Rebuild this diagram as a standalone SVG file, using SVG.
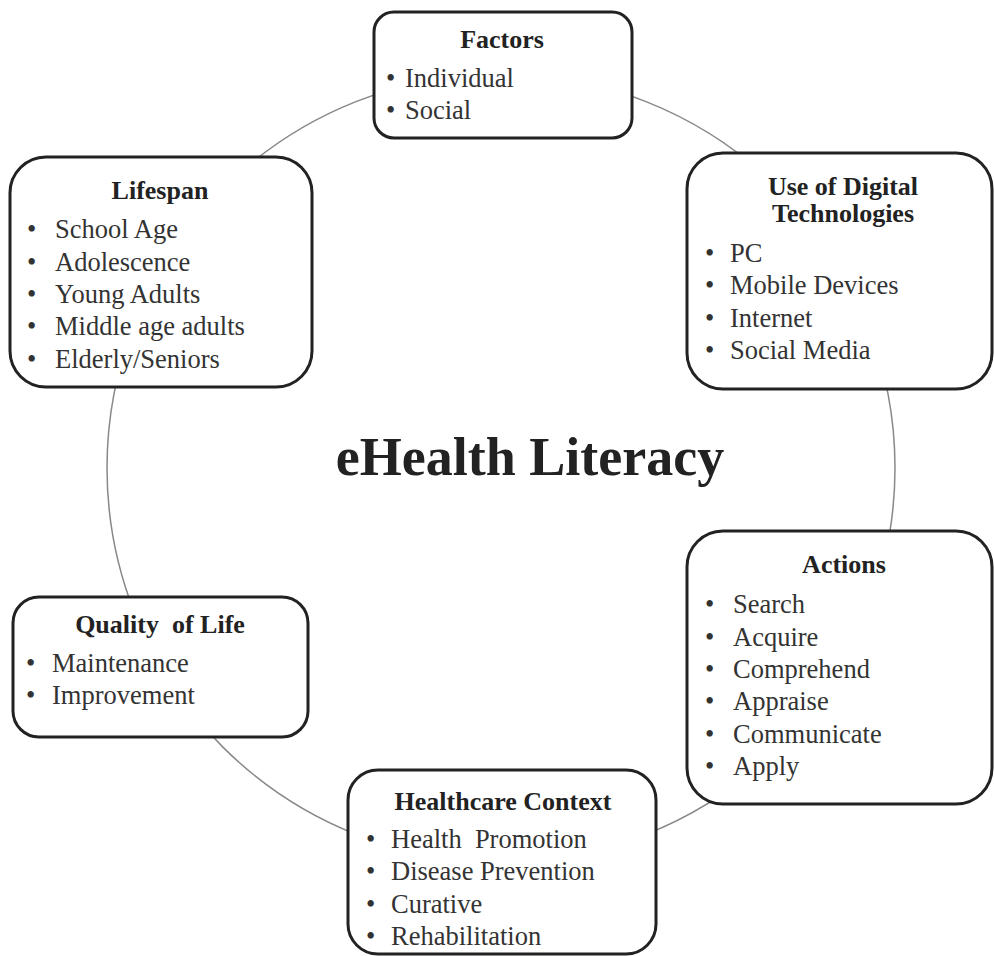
<svg xmlns="http://www.w3.org/2000/svg" width="994" height="956" viewBox="0 0 994 956">
<style>
.box{fill:#fff;stroke:#222;stroke-width:3}
.ring{fill:none;stroke:#888;stroke-width:1.5}
text{font-family:"Liberation Serif","Times New Roman",serif;fill:#333}
.h{font-size:26px;font-weight:bold;fill:#222;text-anchor:middle}
.i{font-size:26.5px}
.pre{white-space:pre}
.title{font-size:54px;font-weight:bold;fill:#222;text-anchor:middle}
</style>
<rect width="994" height="956" fill="#fff"/>
<g id="connectors">
<circle class="ring" cx="501" cy="468" r="394"/>
</g>
<g id="center">
<text class="title" x="530" y="475">eHealth Literacy</text>
</g>
<g id="factors">
<rect class="box" x="374" y="12" width="258" height="126" rx="20"/>
<text class="h" x="502" y="48">Factors</text>
<text class="i" x="386" y="87">•</text><text class="i" x="405" y="87">Individual</text>
<text class="i" x="386" y="119">•</text><text class="i" x="405" y="119">Social</text>
</g>
<g id="lifespan">
<rect class="box" x="10" y="157" width="302" height="230" rx="36"/>
<text class="h" x="160" y="199">Lifespan</text>
<text class="i" x="27" y="238">•</text><text class="i" x="55" y="238">School Age</text>
<text class="i" x="27" y="271">•</text><text class="i" x="55" y="271">Adolescence</text>
<text class="i" x="27" y="303">•</text><text class="i" x="55" y="303">Young Adults</text>
<text class="i" x="27" y="335">•</text><text class="i" x="55" y="335">Middle age adults</text>
<text class="i" x="27" y="368">•</text><text class="i" x="55" y="368">Elderly/Seniors</text>
</g>
<g id="digital">
<rect class="box" x="687" y="153" width="305" height="236" rx="36"/>
<text class="h" x="843" y="195">Use of Digital</text>
<text class="h" x="843" y="222">Technologies</text>
<text class="i" x="705" y="262">•</text><text class="i" x="730" y="262">PC</text>
<text class="i" x="705" y="294">•</text><text class="i" x="730" y="294">Mobile Devices</text>
<text class="i" x="705" y="327">•</text><text class="i" x="730" y="327">Internet</text>
<text class="i" x="705" y="359">•</text><text class="i" x="730" y="359">Social Media</text>
</g>
<g id="actions">
<rect class="box" x="687" y="531" width="305" height="273" rx="36"/>
<text class="h" x="844" y="573">Actions</text>
<text class="i" x="705" y="613">•</text><text class="i" x="733" y="613">Search</text>
<text class="i" x="705" y="646">•</text><text class="i" x="733" y="646">Acquire</text>
<text class="i" x="705" y="678">•</text><text class="i" x="733" y="678">Comprehend</text>
<text class="i" x="705" y="710">•</text><text class="i" x="733" y="710">Appraise</text>
<text class="i" x="705" y="743">•</text><text class="i" x="733" y="743">Communicate</text>
<text class="i" x="705" y="775">•</text><text class="i" x="733" y="775">Apply</text>
</g>
<g id="quality">
<rect class="box" x="13" y="597" width="295" height="140" rx="26"/>
<text class="h pre" x="160" y="633">Quality  of Life</text>
<text class="i" x="26" y="672">•</text><text class="i" x="52" y="672">Maintenance</text>
<text class="i" x="26" y="704">•</text><text class="i" x="52" y="704">Improvement</text>
</g>
<g id="healthcare">
<rect class="box" x="348" y="770" width="308" height="184" rx="30"/>
<text class="h" x="503" y="810">Healthcare Context</text>
<text class="i" x="366" y="848">•</text><text class="i pre" x="391" y="848">Health  Promotion</text>
<text class="i" x="366" y="880">•</text><text class="i" x="391" y="880">Disease Prevention</text>
<text class="i" x="366" y="913">•</text><text class="i" x="391" y="913">Curative</text>
<text class="i" x="366" y="945">•</text><text class="i" x="391" y="945">Rehabilitation</text>
</g>
</svg>
